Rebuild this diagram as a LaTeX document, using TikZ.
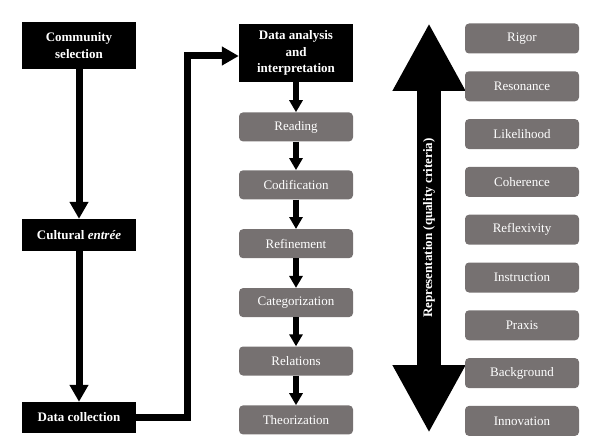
\documentclass[tikz,border=0pt]{standalone}
\usepackage{fontspec}
\setmainfont{Liberation Serif}
\usepackage{xcolor}
\usetikzlibrary{arrows.meta,positioning}
\definecolor{boxGray}{HTML}{767171}

\begin{document}
\begin{tikzpicture}[x=1pt, y=-1pt, font=\fontsize{13}{16.5}\selectfont,
  blk/.style={fill=black, text=white, font=\fontsize{13}{16.5}\selectfont\bfseries, minimum width=114pt, align=center, inner sep=2pt},
  gry/.style={fill=boxGray, text=white, rounded corners=4pt, minimum width=114pt, minimum height=29pt, inner sep=2pt},
  crit/.style={gry, minimum height=30pt},
  big/.style={-{Triangle[length=17pt, width=18pt]}, line width=7pt, line join=miter},
  sml/.style={-{Triangle[length=12pt, width=13pt]}, line width=6pt},
  dbl/.style={{Triangle[length=68pt, width=68pt]}-{Triangle[length=68pt, width=68pt]}, line width=24pt}]
\useasboundingbox (0,0) rectangle (593,446);
% left column
\node[blk, minimum height=47pt](comm) at (79,45.5){Community\\selection};
\node[blk, minimum height=32pt](cult) at (79,235){Cultural \textit{entrée}};
\node[blk, minimum height=31pt](coll) at (79,417.5){Data collection};
\draw[big](comm)--(cult); \draw[big](cult)--(coll);
% middle column
\node[blk, minimum height=58pt](anal) at (296,53){Data analysis\\and\\interpretation};
\node[gry, below=30pt of anal](read){Reading}; \node[gry, below=28.5pt of read](cod){Codification};
\node[gry, below=29.5pt of cod](ref){Refinement}; \node[gry, below=29.5pt of ref](cat){Categorization};
\node[gry, below=29pt of cat](rel){Relations}; \node[gry, below=29.5pt of rel](theo){Theorization};
\draw[big](coll.east)--++(51,0)|-([yshift=-3pt]anal.west);
\foreach \a/\b in {anal/read, read/cod, cod/ref, ref/cat, cat/rel, rel/theo}
  \draw[sml](\a)--(\b);
% quality criteria
\coordinate(top) at (429,23); \coordinate(bot) at (429,433);
\draw[dbl](top)--(bot);
\node[rotate=90, text=white, font=\fontsize{13}{16.5}\selectfont\bfseries](rep) at (429,228){Representation (quality criteria)};
\node[crit](rig) at (522,38.5){Rigor}; \node[crit, below=17.4pt of rig](res){Resonance};
\node[crit, below=17.4pt of res](lik){Likelihood}; \node[crit, below=17.4pt of lik](coh){Coherence};
\node[crit, below=17.4pt of coh](refl){Reflexivity}; \node[crit, below=17.4pt of refl](ins){Instruction};
\node[crit, below=17.4pt of ins](pra){Praxis}; \node[crit, below=17.4pt of pra](back){Background};
\node[crit, below=17.4pt of back](inno){Innovation};
\end{tikzpicture}
\end{document}
